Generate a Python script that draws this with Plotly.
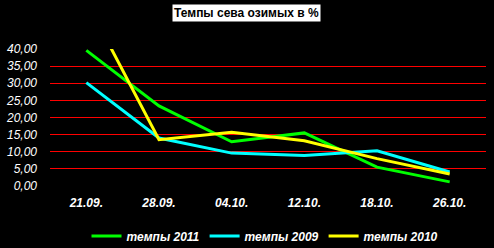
import plotly.graph_objects as go

dates = ["21.09.", "28.09.", "04.10.", "12.10.", "18.10.", "26.10."]
tempy_2011 = [39.6, 23.4, 12.9, 15.5, 5.5, 1.2]
tempy_2009 = [30.2, 14.0, 9.6, 8.9, 10.3, 4.1]
tempy_2010 = [54.0, 13.5, 15.7, 13.2, 8.0, 3.5]
y_ticks = [0, 5, 10, 15, 20, 25, 30, 35, 40]

FONT = "Liberation Sans, Arial, sans-serif"
PH = 248 - 49 - 62

fig = go.Figure()
for name, vals, color in [
    ("темпы 2011", tempy_2011, "#00ff00"),
    ("темпы 2009", tempy_2009, "#00ffff"),
    ("темпы 2010", tempy_2010, "#ffff00"),
]:
    fig.add_trace(go.Scatter(x=dates, y=vals, mode="lines", name=name,
                             line=dict(color=color, width=3)))

fig.update_layout(
    width=494, height=248,
    margin=dict(l=50, r=8, t=49, b=62, autoexpand=False),
    paper_bgcolor="black", plot_bgcolor="black",
    separators=", ",
    showlegend=True,
    legend=dict(orientation="h", x=(265 - 50) / 436, xanchor="center",
                y=(186 - 236) / PH, yanchor="middle",
                font=dict(family=FONT, size=12, color="white", weight="bold", style="italic"),
                bgcolor="rgba(0,0,0,0)", itemwidth=30, tracegroupgap=0),
    annotations=[dict(text="<b>Темпы сева озимых в %</b>", x=(246 - 50) / 436, xref="paper",
                      y=(186 - 13) / PH, yref="paper", yanchor="middle", showarrow=False,
                      font=dict(family=FONT, size=12, color="black"),
                      bgcolor="white", borderpad=1)],
)

fig.update_xaxes(type="category", range=[-0.5, 5.5], showgrid=False, zeroline=False,
                 showline=False, ticks="", ticklabelstandoff=8,
                 tickfont=dict(family=FONT, size=12, color="white", weight="bold", style="italic"))
fig.update_yaxes(range=[0, 40], tickvals=y_ticks, tickformat=".2f",
                 showgrid=True, gridcolor="red", gridwidth=1,
                 zeroline=True, zerolinecolor="black", zerolinewidth=2,
                 showline=False, ticks="", ticklabelstandoff=12,
                 tickfont=dict(family=FONT, size=12, color="white", style="italic"))

fig.write_html("out.html")
